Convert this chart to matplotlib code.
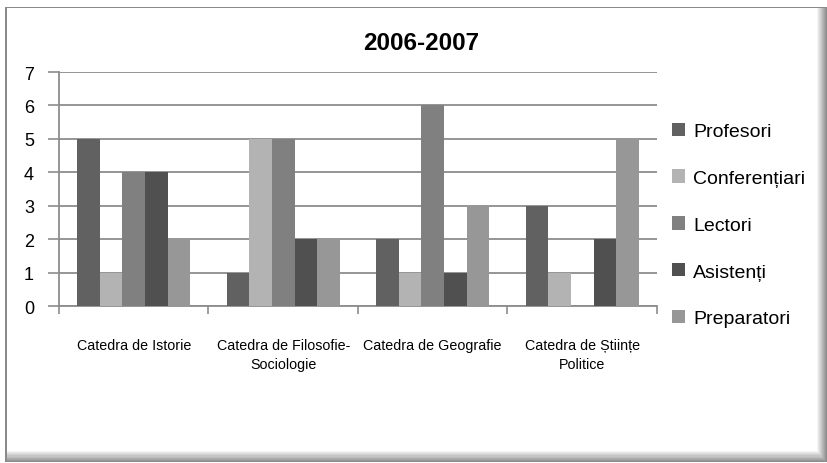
import matplotlib
matplotlib.use("Agg")
import matplotlib.pyplot as plt
from matplotlib.patches import Rectangle
import numpy as np

categories = ["Catedra de Istorie", "Catedra de Filosofie-\nSociologie",
              "Catedra de Geografie", "Catedra de Științe\nPolitice"]
series = ["Profesori", "Conferențiari", "Lectori", "Asistenți", "Preparatori"]
profesori = [5, 1, 2, 3]
conferentiari = [1, 5, 1, 1]
lectori = [4, 5, 6, 0]
asistenti = [4, 2, 1, 2]
preparatori = [2, 2, 3, 5]
values = [profesori, conferentiari, lectori, asistenti, preparatori]
colors = ["#616161", "#b3b3b3", "#808080", "#505050", "#979797"]
yticks = [0, 1, 2, 3, 4, 5, 6, 7]

plt.rcParams['font.family'] = ['Liberation Sans', 'DejaVu Sans']

W, H = 828, 464
fig = plt.figure(figsize=(W / 100, H / 100), dpi=100)
fig.patch.set_facecolor("white")

def px_rect(x0, y0, w, h, **kw):
    # pixel coords from top-left
    fig.patches.append(Rectangle((x0 / W, 1 - (y0 + h) / H), w / W, h / H,
                                 transform=fig.transFigure, **kw))

# shadow gradients (right and bottom)
ns = 10
for i in range(ns):
    g = 1.0 - 0.45 * (i + 1) / ns
    px_rect(817 + i, 8, 1, 455, facecolor=(g, g, g), edgecolor="none", zorder=-9)
    px_rect(6, 452 + i * 1.1, 821, 1.1, facecolor=(g, g, g), edgecolor="none", zorder=-9)
# left and top border
px_rect(5.5, 7.5, 1.6, 455, facecolor="#8a8a8a", edgecolor="none", zorder=-8)
px_rect(5.5, 7.5, 821, 1.6, facecolor="#8a8a8a", edgecolor="none", zorder=-8)

ax = fig.add_axes([59 / W, (H - 307) / H, 598 / W, (307 - 73) / H])
ax.set_facecolor("none")

n = len(series)
bw = 0.151
x = np.arange(len(categories))
for i, (name, vals, c) in enumerate(zip(series, values, colors)):
    ax.bar(x + (i - (n - 1) / 2) * bw, vals, width=bw, color=c, label=name,
           edgecolor="none", zorder=3)

ax.set_xlim(-0.5, len(categories) - 0.5)
ax.set_ylim(0, 7)
ax.set_yticks(yticks)
ax.set_yticklabels([str(v) for v in yticks], fontsize=13)
ax.yaxis.grid(True, color="#8c8c8c", linewidth=1.3, zorder=0)
ax.set_axisbelow(True)
ax.tick_params(axis="y", length=8, width=1.2, color="#8c8c8c", pad=10)

ax.set_xticks(np.arange(-0.5, len(categories), 1.0))
ax.set_xticklabels([])
ax.set_xticks(x, minor=True)
ax.set_xticklabels(categories, minor=True, fontsize=10.3, linespacing=1.45)
ax.tick_params(axis="x", which="major", length=6, width=1.2, color="#8c8c8c")
ax.tick_params(axis="x", which="minor", length=0, pad=23)

for s in ["top", "right"]:
    ax.spines[s].set_visible(False)
for s in ["left", "bottom"]:
    ax.spines[s].set_color("#8c8c8c")
    ax.spines[s].set_linewidth(1.3)

fig.text(421 / W, 1 - 44 / H, "2006-2007", ha="center", va="center",
         fontsize=17.5, fontweight="bold")

leg = ax.legend(loc="center left", bbox_to_anchor=(672 / W, 1 - 226 / H),
                bbox_transform=fig.transFigure, frameon=False, fontsize=14,
                handlelength=0.67, handleheight=0.67, handletextpad=0.42,
                labelspacing=1.51, borderpad=0, borderaxespad=0)

fig.savefig("out.png", dpi=100)
